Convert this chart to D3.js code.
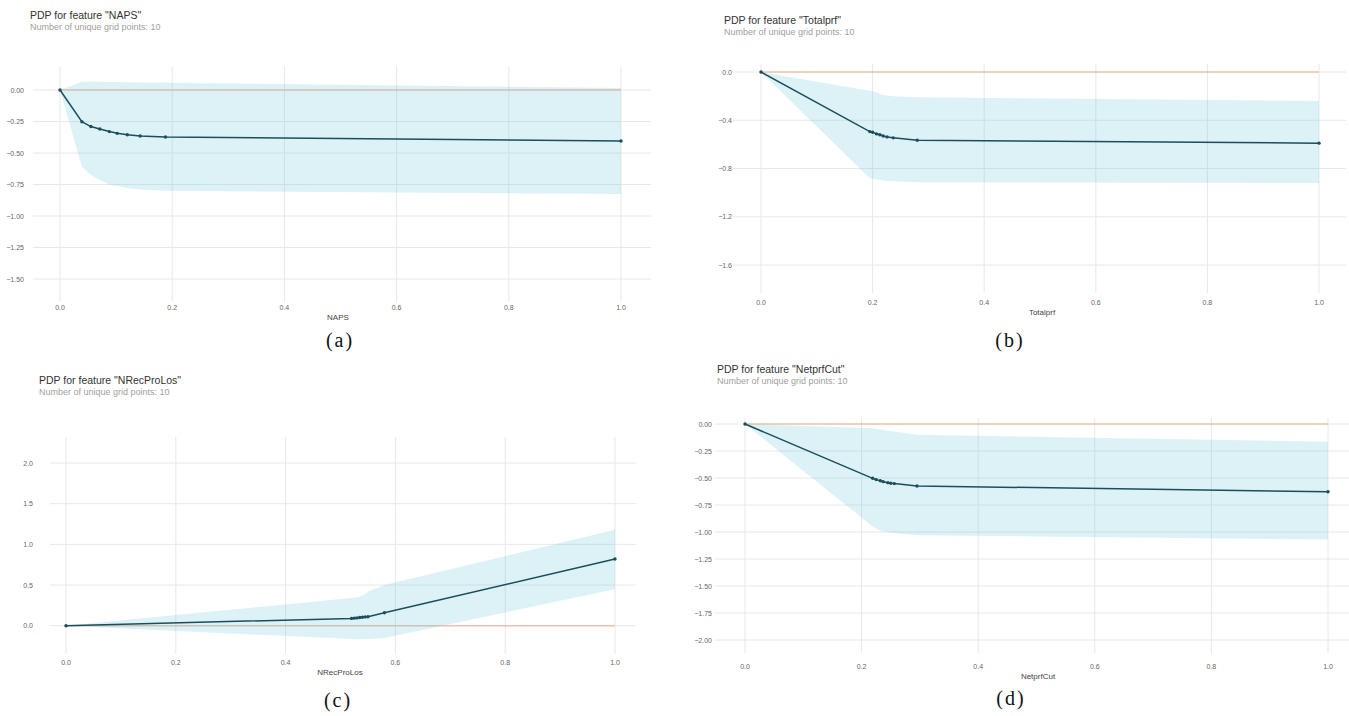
<!DOCTYPE html>
<html>
<head>
<meta charset="utf-8">
<script src="https://cdn.jsdelivr.net/npm/d3@7"></script>
<style>
  html, body { margin: 0; padding: 0; background: #fff; }
  svg { display: block; font-family: "Liberation Sans", Arial, sans-serif; }
  .grid line { stroke: #e8e8e8; stroke-width: 1; }
  .tick-lbl { fill: #666; font-size: 7px; }
  .ax-lbl { fill: #444; font-size: 8px; }
  .title { fill: #333; font-size: 10.5px; }
  .subtitle { fill: #a0a0a0; font-size: 9px; }
  .caption { fill: #111; font-family: "Liberation Serif", "Times New Roman", serif; font-size: 20px; letter-spacing: 2px; }
</style>
</head>
<body>
<script>
// ---- data ----
const xTicks = [0, 0.2, 0.4, 0.6, 0.8, 1.0];

// (a) NAPS
const napsX     = [0, 0.039, 0.055, 0.071, 0.088, 0.102, 0.12, 0.143, 0.188, 1.0];
const napsPdp   = [0, -0.252, -0.29, -0.31, -0.33, -0.344, -0.355, -0.365, -0.373, -0.405];
const napsUpper = [0, 0.066, 0.066, 0.065, 0.064, 0.063, 0.062, 0.06, 0.058, 0.015];
const napsLower = [0, -0.61, -0.675, -0.714, -0.75, -0.76, -0.78, -0.79, -0.80, -0.825];
const napsYTicks = [0, -0.25, -0.5, -0.75, -1.0, -1.25, -1.5];

// (b) Totalprf
const totX     = [0, 0.195, 0.2, 0.207, 0.213, 0.219, 0.226, 0.237, 0.28, 1.0];
const totPdp   = [0, -0.494, -0.5, -0.513, -0.52, -0.53, -0.538, -0.546, -0.566, -0.59];
const totUpper = [0, -0.155, -0.16, -0.17, -0.18, -0.19, -0.195, -0.2, -0.21, -0.24];
const totLower = [0, -0.88, -0.885, -0.89, -0.895, -0.9, -0.903, -0.906, -0.915, -0.92];
const totYTicks = [0, -0.4, -0.8, -1.2, -1.6];

// (c) NRecProLos
const nrecX     = [0, 0.52, 0.525, 0.53, 0.535, 0.54, 0.545, 0.55, 0.58, 1.0];
const nrecPdp   = [0, 0.09, 0.093, 0.096, 0.1, 0.104, 0.108, 0.11, 0.16, 0.82];
const nrecUpper = [0, 0.34, 0.345, 0.35, 0.36, 0.37, 0.39, 0.42, 0.5, 1.18];
const nrecLower = [0, -0.165, -0.167, -0.168, -0.168, -0.168, -0.168, -0.165, -0.15, 0.447];
const nrecYTicks = [0, 0.5, 1.0, 1.5, 2.0];

// (d) NetprfCut
const netX     = [0, 0.219, 0.225, 0.232, 0.237, 0.245, 0.25, 0.256, 0.295, 1.0];
const netPdp   = [0, -0.503, -0.515, -0.525, -0.534, -0.543, -0.548, -0.552, -0.574, -0.627];
const netUpper = [0, -0.04, -0.045, -0.05, -0.055, -0.06, -0.065, -0.07, -0.1, -0.164];
const netLower = [0, -0.95, -0.97, -0.985, -0.995, -1.0, -1.005, -1.01, -1.03, -1.07];
const netYTicks = [0, -0.25, -0.5, -0.75, -1.0, -1.25, -1.5, -1.75, -2.0];

const svg = d3.select('body').append('svg')
  .attr('width', 1349).attr('height', 716);
svg.append('rect').attr('width', 1349).attr('height', 716).attr('fill', '#fff');

function drawPanel(p){
  const g = svg.append('g');
  const x = d3.scaleLinear().domain([0, 1]).range([p.x0, p.x1]);
  const y = d3.scaleLinear().domain(p.yDom).range(p.yRange);
  const fmt = d3.format(p.yFmt);

  // grid
  const grid = g.append('g').attr('class', 'grid');
  grid.selectAll('.h').data(p.yTicks).enter().append('line')
    .attr('x1', p.gl).attr('x2', p.gr).attr('y1', d => y(d)).attr('y2', d => y(d));
  grid.selectAll('.v').data(xTicks).enter().append('line')
    .attr('x1', d => x(d)).attr('x2', d => x(d)).attr('y1', p.vt).attr('y2', p.vb);

  // zero reference line
  g.append('line').attr('x1', x(0)).attr('x2', x(1)).attr('y1', y(0)).attr('y2', y(0))
    .attr('stroke', '#EE8A5A').attr('stroke-opacity', 0.45).attr('stroke-width', 1.4);

  const pts = p.xs.map((v, i) => ({x: v, pdp: p.pdp[i], hi: p.hi[i], lo: p.lo[i]}));

  g.append('path').datum(pts)
    .attr('d', d3.area().x(d => x(d.x)).y0(d => y(d.lo)).y1(d => y(d.hi)))
    .attr('fill', '#66C2D7').attr('fill-opacity', 0.22);

  g.append('path').datum(pts)
    .attr('d', d3.line().x(d => x(d.x)).y(d => y(d.pdp)))
    .attr('fill', 'none').attr('stroke', '#1A4E5D').attr('stroke-width', 1.5);

  g.selectAll('.dot').data(pts).enter().append('circle')
    .attr('cx', d => x(d.x)).attr('cy', d => y(d.pdp)).attr('r', 1.7)
    .attr('fill', '#1A4E5D');

  // tick labels
  g.selectAll('.yl').data(p.yTicks).enter().append('text').attr('class', 'tick-lbl')
    .attr('x', p.ylx).attr('y', d => y(d) + 2.5).attr('text-anchor', 'end')
    .text(d => fmt(d));
  g.selectAll('.xl').data(xTicks).enter().append('text').attr('class', 'tick-lbl')
    .attr('x', d => x(d)).attr('y', p.xty).attr('text-anchor', 'middle')
    .text(d => d3.format('.1f')(d));

  g.append('text').attr('class', 'ax-lbl').attr('x', p.axx).attr('y', p.axy)
    .attr('text-anchor', 'middle').text(p.feature);

  g.append('text').attr('class', 'title').attr('x', p.tx).attr('y', p.ty)
    .text('PDP for feature "' + p.feature + '"');
  g.append('text').attr('class', 'subtitle').attr('x', p.tx).attr('y', p.ty + 11)
    .text('Number of unique grid points: ' + p.xs.length);

  g.append('text').attr('class', 'caption').attr('x', p.cx).attr('y', p.cy)
    .attr('text-anchor', 'middle').text(p.caption);
}

drawPanel({feature: 'NAPS', caption: '(a)', xs: napsX, pdp: napsPdp, hi: napsUpper, lo: napsLower,
  yTicks: napsYTicks, yFmt: '.2f', yDom: [-1.5, 0], yRange: [279, 90],
  x0: 60, x1: 621, gl: 33, gr: 651, vt: 67, vb: 301, ylx: 24, xty: 310, axx: 338, axy: 320,
  tx: 30, ty: 19, cx: 340, cy: 347});

drawPanel({feature: 'Totalprf', caption: '(b)', xs: totX, pdp: totPdp, hi: totUpper, lo: totLower,
  yTicks: totYTicks, yFmt: '.1f', yDom: [-1.6, 0], yRange: [265, 72],
  x0: 761, x1: 1319, gl: 733, gr: 1346, vt: 64, vb: 293, ylx: 732, xty: 305, axx: 1042, axy: 315,
  tx: 724, ty: 24, cx: 1010, cy: 347});

drawPanel({feature: 'NRecProLos', caption: '(c)', xs: nrecX, pdp: nrecPdp, hi: nrecUpper, lo: nrecLower,
  yTicks: nrecYTicks, yFmt: '.1f', yDom: [0, 2], yRange: [625.7, 463],
  x0: 66, x1: 615, gl: 50, gr: 636, vt: 437, vb: 654, ylx: 33, xty: 665, axx: 340, axy: 675,
  tx: 39, ty: 384, cx: 338, cy: 707});

drawPanel({feature: 'NetprfCut', caption: '(d)', xs: netX, pdp: netPdp, hi: netUpper, lo: netLower,
  yTicks: netYTicks, yFmt: '.2f', yDom: [-2, 0], yRange: [640, 424],
  x0: 745, x1: 1328, gl: 715, gr: 1349, vt: 418, vb: 653, ylx: 712, xty: 669, axx: 1038, axy: 679,
  tx: 717, ty: 373, cx: 1011, cy: 705});
</script>
</body>
</html>
